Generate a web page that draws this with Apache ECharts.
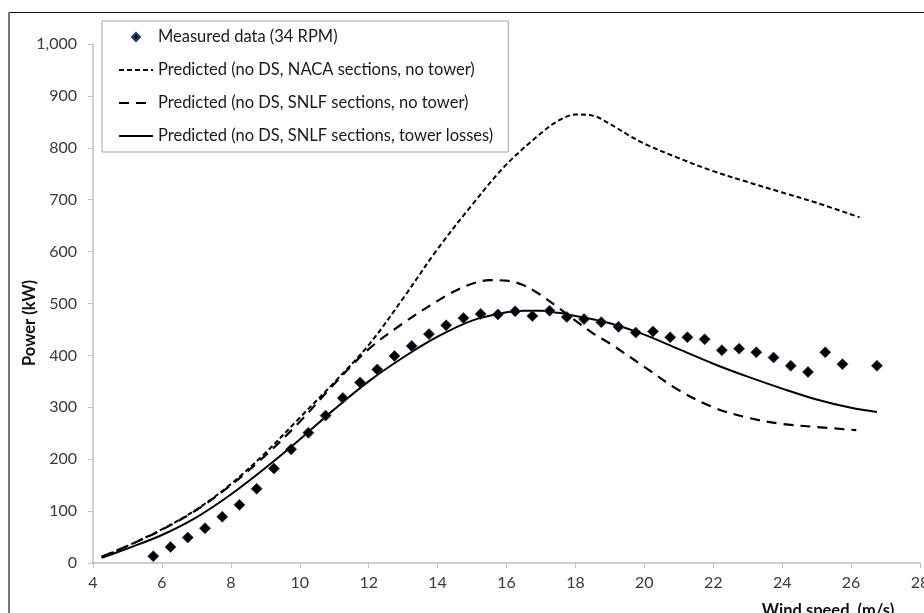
<!DOCTYPE html>
<html lang="en">
<head>
  <meta charset="UTF-8">
  <title>Power vs wind speed</title>
  <style>
    body { margin: 0; padding: 0; background: #fff; }
    #chart { width: 924px; height: 613px; }
  </style>
  <script src="https://cdnjs.cloudflare.com/ajax/libs/echarts/6.0.0/echarts.min.js"></script>
</head>
<body>
  <div id="chart"></div>
  <script>
    // Measured points (34 RPM)
    const measuredX = [5.75, 6.25, 6.75, 7.25, 7.75, 8.25, 8.75, 9.25, 9.75, 10.25, 10.75, 11.25, 11.75, 12.25, 12.75, 13.25, 13.75, 14.25, 14.75, 15.25, 15.75, 16.25, 16.75, 17.25, 17.75, 18.25, 18.75, 19.25, 19.75, 20.25, 20.75, 21.25, 21.75, 22.25, 22.75, 23.25, 23.75, 24.25, 24.75, 25.25, 25.75, 26.75];
    const measuredP = [13, 31, 49, 67, 89, 112, 143, 182, 219, 251, 284, 318, 348, 373, 399, 418, 441, 458, 472, 480, 479, 485, 476, 486, 474, 470, 464, 455, 444, 446, 435, 435, 431, 410, 413, 406, 396, 380, 368, 406, 383, 380];

    // Predicted, NACA sections, no tower
    const nacaX = [4.25, 5, 6, 7, 8, 9, 10, 11, 12, 13, 14, 15, 16, 17, 17.5, 18, 18.5, 19, 19.5, 20, 21, 22, 23, 24, 25, 26.25];
    const nacaP = [12, 33, 65, 103, 152, 212, 280, 348, 420, 510, 605, 690, 768, 828, 852, 864, 862, 846, 826, 808, 780, 755, 734, 714, 694, 666];

    // Predicted, SNLF sections, no tower
    const snlfX = [4.25, 5, 6, 7, 8, 9, 10, 11, 12, 13, 14, 14.5, 15, 15.5, 16, 16.5, 17, 17.5, 18, 18.5, 19, 20, 21, 22, 23, 24, 25, 26.15];
    const snlfP = [12, 33, 64, 102, 150, 207, 272, 345, 412, 462, 505, 524, 538, 545, 544, 535, 516, 492, 467, 443, 423, 378, 333, 300, 280, 268, 262, 256];

    // Predicted, SNLF sections, tower losses
    const towerX = [4.25, 5, 6, 7, 8, 9, 10, 11, 12, 13, 14, 15, 16, 16.5, 17, 17.5, 18, 19, 20, 21, 22, 23, 24, 25, 26, 26.75];
    const towerP = [10, 28, 54, 88, 132, 183, 238, 296, 350, 396, 436, 467, 483, 486, 486, 482, 476, 462, 440, 412, 384, 359, 336, 315, 299, 291];

    const names = [
      'Measured data (34 RPM)',
      'Predicted (no DS, NACA sections, no tower)',
      'Predicted (no DS, SNLF sections, no tower)',
      'Predicted (no DS, SNLF sections, tower losses)'
    ];

    const pairs = (xs, ys) => xs.map((x, i) => [x, ys[i]]);
    const font = 'Lato, "Open Sans", sans-serif';
    const axisGray = '#bfbfbf';
    const labelColor = '#3a3a3a';

    // small diamond centred in the 34x10 legend icon box (corner moves keep the box size)
    const legendDiamond = 'path://M0,0 L0,0 M34,10 L34,10 M17,1 L21,5 L17,9 L13,5 Z';

    const chart = echarts.init(document.getElementById('chart'));
    chart.setOption({
      animation: false,
      textStyle: { fontFamily: font },
      grid: { left: 93, right: 4, top: 44, bottom: 50, containLabel: false, outerBoundsMode: 'none' },
      xAxis: {
        type: 'value',
        min: 4, max: 28, interval: 2,
        axisLine: { show: true, lineStyle: { color: axisGray, width: 1.5 } },
        axisTick: { show: true, length: 5, lineStyle: { color: axisGray } },
        axisLabel: { color: labelColor, fontSize: 16, margin: 12, fontFamily: font },
        splitLine: { show: false }
      },
      yAxis: {
        type: 'value',
        min: 0, max: 1000, interval: 100,
        axisLine: { show: true, lineStyle: { color: axisGray, width: 1.5 } },
        axisTick: { show: true, length: 5, lineStyle: { color: axisGray } },
        axisLabel: {
          color: labelColor, fontSize: 16, margin: 16, fontFamily: font,
          formatter: v => v.toLocaleString('en-US')
        },
        splitLine: { show: false }
      },
      legend: {
        orient: 'vertical',
        left: 102, top: 21,
        padding: [7, 15, 7, 16],
        itemWidth: 34, itemHeight: 10, itemGap: 15,
        backgroundColor: '#fff',
        borderColor: '#a6a6a6', borderWidth: 1,
        textStyle: { color: '#1a1a1a', fontSize: 16.5, lineHeight: 18, fontFamily: font },
        data: [
          { name: names[0], icon: legendDiamond },
          { name: names[1], itemStyle: { opacity: 0 } },
          { name: names[2], itemStyle: { opacity: 0 } },
          { name: names[3], itemStyle: { opacity: 0 } }
        ]
      },
      graphic: [
        { type: 'line', shape: { x1: 9, y1: 12.5, x2: 924, y2: 12.5 }, style: { stroke: '#111', lineWidth: 1 } },
        { type: 'line', shape: { x1: 9, y1: 12, x2: 9, y2: 613 }, style: { stroke: '#777', lineWidth: 2 } },
        {
          type: 'text', x: 30, y: 323, rotation: Math.PI / 2,
          style: { text: 'Power (kW)', font: 'bold 16.5px ' + font, fill: '#111', align: 'center', verticalAlign: 'middle' }
        },
        {
          type: 'text', x: 828, y: 602,
          style: { text: 'Wind speed  (m/s)', font: 'bold 16.5px ' + font, fill: '#111', align: 'center', verticalAlign: 'top' }
        }
      ],
      series: [
        {
          name: names[0], type: 'scatter', z: 5,
          symbol: 'diamond', symbolSize: 11,
          itemStyle: { color: '#000', borderColor: '#1f3d6e', borderWidth: 0.8, opacity: 1 },
          data: pairs(measuredX, measuredP)
        },
        {
          name: names[1], type: 'line', smooth: 0.35, symbol: 'none',
          lineStyle: { color: '#000', width: 2, type: [5, 3] },
          itemStyle: { color: '#000' },
          data: pairs(nacaX, nacaP)
        },
        {
          name: names[2], type: 'line', smooth: 0.35, symbol: 'none',
          lineStyle: { color: '#000', width: 2.2, type: [10, 7] },
          itemStyle: { color: '#000' },
          data: pairs(snlfX, snlfP)
        },
        {
          name: names[3], type: 'line', smooth: 0.35, symbol: 'none',
          lineStyle: { color: '#000', width: 2 },
          itemStyle: { color: '#000' },
          data: pairs(towerX, towerP)
        }
      ]
    });
  </script>
</body>
</html>
